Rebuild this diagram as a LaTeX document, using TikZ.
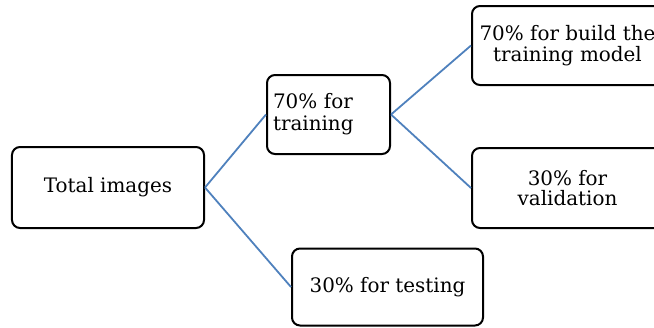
\documentclass[tikz,border=0pt]{standalone}
\usepackage{fontspec}
\setmainfont{DejaVu Serif}
\definecolor{linkblue}{RGB}{79,129,189}

\begin{document}
\begin{tikzpicture}[x=1bp,y=-1bp,
    box/.style={draw,line width=2bp,rounded corners=8bp,inner sep=0pt,
        font=\fontsize{20}{22}\selectfont},
    link/.style={draw=linkblue,line width=1.8bp}]
        \useasboundingbox (0,0) rectangle (654,327);
        \node[box,minimum width=192bp,minimum height=81bp] (total) at (108,187.5) {Total images};
        \node[box,minimum width=123bp,minimum height=79bp,text width=111bp,align=left,inner xsep=6bp] (train) at (328.5,114.5) {70\% for\\training};
        \node[box,minimum width=191bp,minimum height=79bp,align=center] (build) at (567.5,45.5) {70\% for build the\\[-1pt]training model};
        \node[box,minimum width=191bp,minimum height=80bp,align=center] (valid) at (567.5,188) {30\% for\\[-2pt]validation};
        \node[box,minimum width=191bp,minimum height=77bp] (test) at (387.5,287) {30\% for testing};
        \draw[link] (total.east) -- (train.west);
        \draw[link] (total.east) -- (test.west);
        \draw[link] (train.east) -- (build.west);
        \draw[link] (train.east) -- (valid.west);
    \end{tikzpicture}
\end{document}
